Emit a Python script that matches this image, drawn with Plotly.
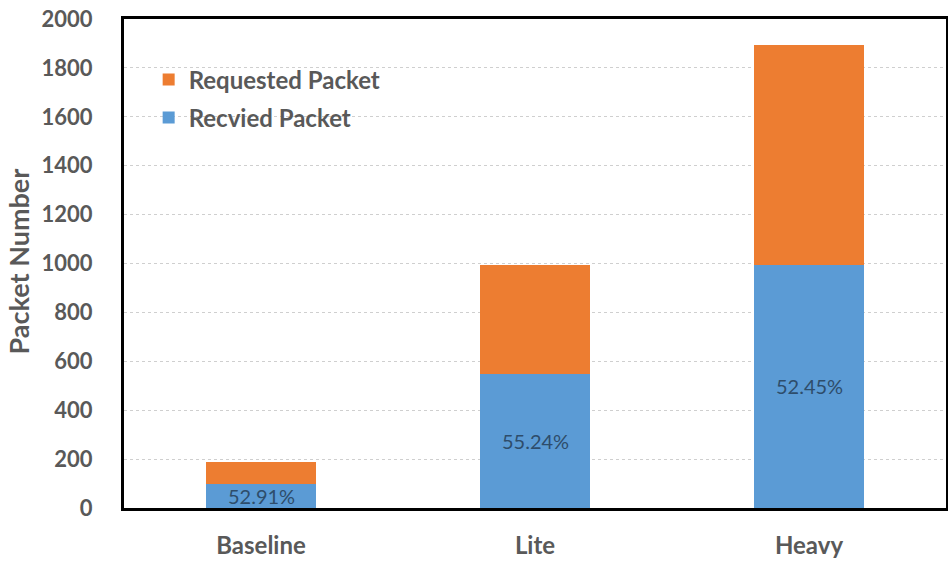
import plotly.graph_objects as go

# Packet counts per configuration
categories = ["Baseline", "Lite", "Heavy"]
requested = [189, 992, 1895]
received = [100, 548, 994]
y_ticks = [0, 200, 400, 600, 800, 1000, 1200, 1400, 1600, 1800, 2000]

BLUE = "#5B9BD5"
ORANGE = "#ED7D31"
GREY = "#595959"
FONT = "Lato"

remaining = [r - v for r, v in zip(requested, received)]
ratios = [v / r * 100 for r, v in zip(requested, received)]

fig = go.Figure()
fig.add_trace(go.Bar(
    x=categories, y=received, name="Recvied Packet",
    marker=dict(color=BLUE, line=dict(width=0)), legend="legend2",
    hoverinfo="skip",
))
fig.add_trace(go.Bar(
    x=categories, y=remaining, name="Requested Packet",
    marker=dict(color=ORANGE, line=dict(width=0)), legend="legend",
    hoverinfo="skip",
))

# percentage of requested packets that were received
for cat, v, pct in zip(categories, received, ratios):
    fig.add_annotation(
        x=cat, y=v / 2, text=f"{pct:.2f}%", showarrow=False,
        font=dict(family=FONT, size=20, color="#2E4D6B"),
        xanchor="center", yanchor="middle",
    )

# vertical axis title
fig.add_annotation(
    x=0, xref="paper", y=0.5, yref="paper", xshift=-106, yshift=2,
    text="<b>Packet Number</b>", textangle=-90, showarrow=False,
    font=dict(family=FONT, size=27, color=GREY),
    xanchor="center", yanchor="middle",
)

legend_style = dict(
    font=dict(family=FONT, size=24, color=GREY, weight="bold"),
    bgcolor="rgba(0,0,0,0)", borderwidth=0,
    xanchor="left", yanchor="middle", itemclick=False, itemdoubleclick=False,
)

fig.update_layout(
    width=948, height=561,
    margin=dict(l=124, r=2, t=19, b=53, autoexpand=False),
    paper_bgcolor="white", plot_bgcolor="white",
    barmode="stack", bargap=0.6,
    legend=dict(x=0.030, y=1 - (80 - 19) / 489, **legend_style),
    legend2=dict(x=0.030, y=1 - (118 - 19) / 489, **legend_style),
    xaxis=dict(
        showline=True, linecolor="black", linewidth=3, mirror=True,
        showgrid=False, ticks="", ticklabelstandoff=14, automargin=False,
        tickfont=dict(family=FONT, size=24, color=GREY, weight="bold"),
    ),
    yaxis=dict(
        range=[0, 2000], tickvals=y_ticks, automargin=False,
        showline=True, linecolor="black", linewidth=3, mirror=True,
        showgrid=True, gridcolor="#CFCFCF", griddash="dot", gridwidth=1,
        zeroline=False, ticks="", ticklabelstandoff=24,
        tickfont=dict(family=FONT, size=22, color=GREY, weight="bold"),
    ),
    showlegend=True,
)

fig.write_html("out.html")
